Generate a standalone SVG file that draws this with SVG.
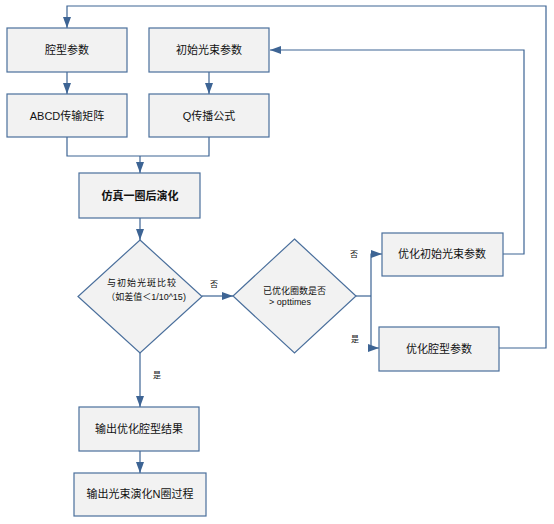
<svg xmlns="http://www.w3.org/2000/svg" width="554" height="524" viewBox="0 0 554 524">
<style>
.box{fill:#f2f2f2;stroke:#4a6f9c;stroke-width:1.2}
.dia{fill:#f2f2f2;stroke:#4a6f9c;stroke-width:1.2}
.t{font-family:"Liberation Sans","Noto Sans CJK SC",sans-serif;font-size:11px;fill:#111;text-anchor:middle;dominant-baseline:central}
.b{font-weight:bold}
.s{font-family:"Liberation Sans","Noto Sans CJK SC",sans-serif;font-size:9px;fill:#111;text-anchor:middle;dominant-baseline:central}
.l{font-family:"Liberation Sans","Noto Sans CJK SC",sans-serif;font-size:8px;fill:#111;text-anchor:middle;dominant-baseline:central}
.c{fill:none;stroke:#3d6494;stroke-width:1.2}
</style>
<defs>
<marker id="ar" markerUnits="userSpaceOnUse" markerWidth="12" markerHeight="10" refX="11" refY="4" orient="auto">
<path d="M0,0 L11,4 L0,8 z" fill="#3d6494"/>
</marker>
</defs>
<g id="connectors">
<path class="c" d="M67,72 V94" marker-end="url(#ar)"/>
<path class="c" d="M209,72 V94" marker-end="url(#ar)"/>
<path class="c" d="M67,137 V156 H209 V137"/>
<path class="c" d="M140,156 V173" marker-end="url(#ar)"/>
<path class="c" d="M140,218 V240" marker-end="url(#ar)"/>
<path class="c" d="M202,296 H233" marker-end="url(#ar)"/>
<path class="c" d="M356,296 H371"/>
<path class="c" d="M371,296 V254 H382" marker-end="url(#ar)"/>
<path class="c" d="M371,296 V348 H379" marker-end="url(#ar)"/>
<path class="c" d="M503,254 H524 V50 H270" marker-end="url(#ar)"/>
<path class="c" d="M499,348 H546 V6 H67 V28" marker-end="url(#ar)"/>
<path class="c" d="M140,353 V407" marker-end="url(#ar)"/>
<path class="c" d="M140,451 V473" marker-end="url(#ar)"/>
<text class="l" x="214" y="284">否</text>
<text class="l" x="354" y="254">否</text>
<text class="l" x="355" y="339">是</text>
<text class="l" x="157" y="375">是</text>
</g>
<g id="n1"><rect class="box" x="7" y="28" width="120" height="44"/><text class="t" x="67" y="50">腔型参数</text></g>
<g id="n2"><rect class="box" x="149" y="28" width="120" height="44"/><text class="t" x="209" y="50">初始光束参数</text></g>
<g id="n3"><rect class="box" x="7" y="94" width="120" height="43"/><text class="t" x="67" y="116">ABCD传输矩阵</text></g>
<g id="n4"><rect class="box" x="149" y="94" width="120" height="43"/><text class="t" x="209" y="116">Q传播公式</text></g>
<g id="n5"><rect class="box" x="79" y="173" width="121" height="45"/><text class="t b" x="140" y="196">仿真一圈后演化</text></g>
<g id="n6"><path class="dia" d="M140,240 L202,296.5 L140,353 L78,296.5 z"/><text class="s" x="142" y="283" letter-spacing="1">与初始光斑比较</text><text class="s" x="146" y="297">（如差值＜1/10^15)</text></g>
<g id="n7"><path class="dia" d="M294.5,239 L356,296 L294.5,353 L233,296 z"/><text class="s" x="294.5" y="291">已优化圈数是否</text><text class="s" x="290" y="302">&gt; opttimes</text></g>
<g id="n8"><rect class="box" x="382" y="233" width="121" height="43"/><text class="t" x="442" y="254">优化初始光束参数</text></g>
<g id="n9"><rect class="box" x="379" y="327" width="120" height="44"/><text class="t" x="439" y="349">优化腔型参数</text></g>
<g id="n10"><rect class="box" x="79" y="407" width="120" height="44"/><text class="t" x="139" y="429">输出优化腔型结果</text></g>
<g id="n11"><rect class="box" x="74" y="473" width="132" height="43"/><text class="t" x="140" y="494">输出光束演化N圈过程</text></g>
</svg>
